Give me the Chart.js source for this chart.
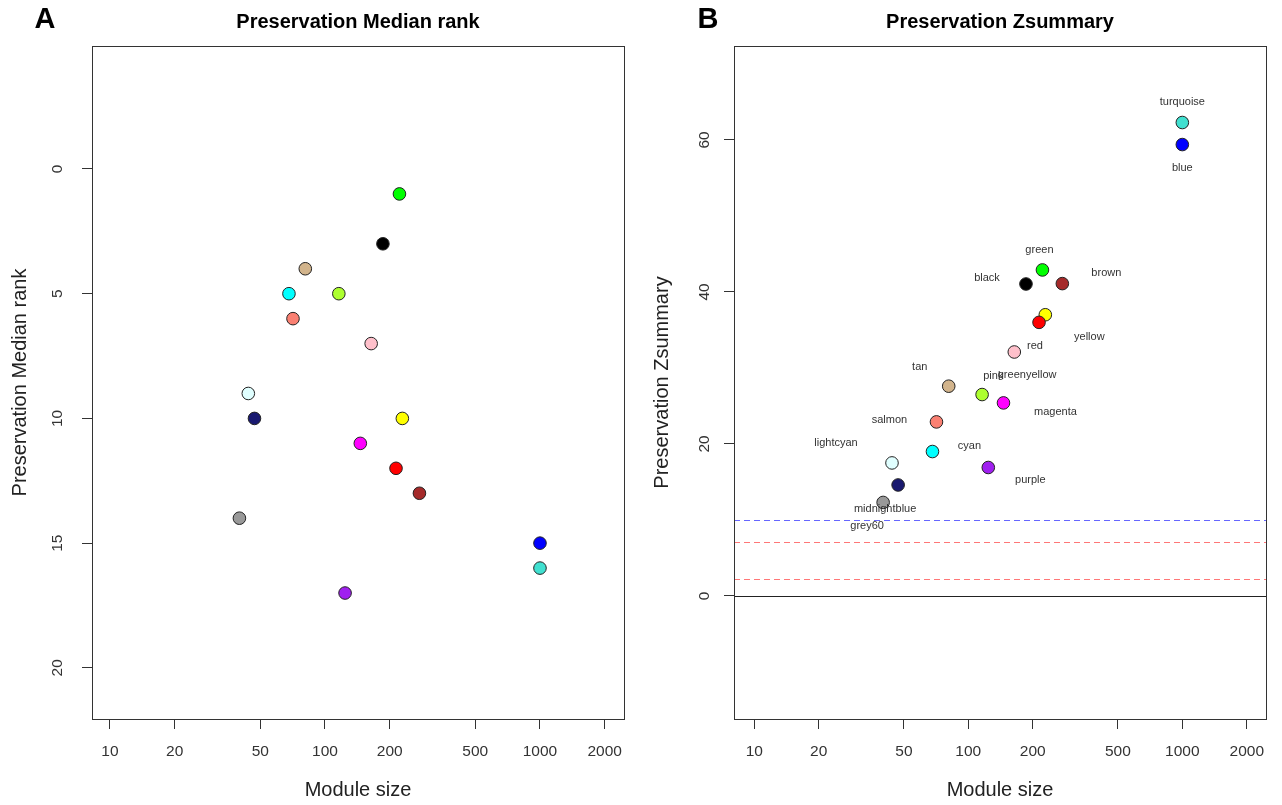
<!DOCTYPE html>
<html><head><meta charset="utf-8">
<script src="https://cdn.jsdelivr.net/npm/chart.js@4/dist/chart.umd.min.js"></script>
<style>
html,body{margin:0;padding:0;background:#fff;}
#wrap{position:relative;width:1282px;height:805px;overflow:hidden;}
.panel{position:absolute;top:0;width:641px;height:805px;}
</style></head><body>
<div id="wrap">
<div class="panel" style="left:0"><canvas id="cA"></canvas></div>
<div class="panel" style="left:641px"><canvas id="cB"></canvas></div>
</div>
<script>
// ---- data ----
const modules = ["green","black","tan","cyan","greenyellow","salmon","pink","lightcyan","midnightblue","yellow","magenta","red","brown","grey60","blue","turquoise","purple"];
const moduleSizes = [222,186,81,68,116,71,164,44,47,229,146,214,275,40,1000,1000,124];
const medianRanks = [1,3,4,5,5,6,7,9,10,10,11,12,13,14,15,16,17];
const zSummary = [42.9,41.05,27.6,19.0,26.5,22.9,32.1,17.5,14.6,37.0,25.4,36.0,41.1,12.3,59.4,62.3,16.9];
const moduleColors = ["#00FF00","#000000","#D2B48C","#00FFFF","#ADFF2F","#FA8072","#FFC0CB","#E0FFFF","#191970","#FFFF00","#FF00FF","#FF0000","#A52A2A","#999999","#0000FF","#40E0D0","#A020F0"];
const xTickValues = [10,20,50,100,200,500,1000,2000];
const rankTicks = [0,5,10,15,20];
const zTicks = [0,20,40,60];
const zRefLines = [0,10,7.15,2.2];
const zRefColors = ["#222222","#6666FF","#FF7777","#FF7777"];
const zRefDash = [[],[6,4],[6,4],[6,4]];
// label offsets (px) relative to each point in panel B
const labelOffsets = [[-3,-20],[-39,-6],[-29,-19],[37,-6],[45,-20],[-47,-2],[-21,24],[-56,-20],[-13,24],[44,22],[52,9],[-4,24],[44,-11],[-16,24],[0,23],[0,-21],[42,12]];

const FONT = "'Liberation Sans', Arial, Helvetica, sans-serif";
const AXC = '#333';

function boxAndText(opts){
  return {
    id: 'rdecor',
    afterDraw(chart){
      const ctx = chart.ctx, a = chart.chartArea;
      ctx.save();
      ctx.strokeStyle = AXC; ctx.lineWidth = 1;
      ctx.strokeRect(Math.round(a.left)+0.5, Math.round(a.top)+0.5, Math.round(a.right-a.left), Math.round(a.bottom-a.top));
      const cx = (a.left + a.right)/2;
      ctx.fillStyle = '#000';
      ctx.textAlign = 'center'; ctx.textBaseline = 'middle';
      ctx.font = 'bold 20px ' + FONT;
      ctx.fillText(opts.title, cx, 22);
      ctx.font = 'bold 29px ' + FONT;
      ctx.fillText(opts.letter, opts.letterX, 20);
      ctx.fillStyle = '#222';
      ctx.font = '20px ' + FONT;
      ctx.fillText('Module size', cx, 790);
      // y title
      ctx.save();
      ctx.translate(a.left - 72, (a.top + a.bottom)/2);
      ctx.rotate(-Math.PI/2);
      ctx.fillText(opts.ytitle, 0, 0);
      ctx.restore();
      // y tick labels rotated
      const ys = chart.scales.y;
      ctx.font = '15.5px ' + FONT;
      ctx.fillStyle = '#333';
      opts.yticks.forEach(v => {
        const py = ys.getPixelForValue(v);
        ctx.save();
        ctx.translate(a.left - opts.ytickOff, py);
        ctx.rotate(-Math.PI/2);
        ctx.fillText(String(v), 0, 0);
        ctx.restore();
      });
      ctx.restore();
    }
  };
}

function makeOptions(cfg){
  return {
    responsive: true,
    maintainAspectRatio: false,
    animation: false,
    events: [],
    layout: { padding: { left: 0, right: cfg.padRight, top: 46, bottom: 0 } },
    plugins: { legend: { display: false }, tooltip: { enabled: false }, title: { display: false } },
    scales: {
      x: {
        type: 'logarithmic',
        min: cfg.xmin, max: cfg.xmax,
        afterBuildTicks: s => { s.ticks = xTickValues.map(v => ({ value: v })); },
        afterFit: s => { s.height = 86; },
        ticks: { callback: v => String(v), autoSkip: false, maxRotation: 0, minRotation: 0, color: '#333', font: { family: FONT, size: 15.5 }, padding: 13 },
        grid: { display: true, drawOnChartArea: false, drawTicks: true, tickLength: 10, color: AXC, lineWidth: 1 },
        border: { display: true, color: AXC, width: 1 }
      },
      y: {
        type: 'linear',
        reverse: cfg.reverse,
        min: cfg.ymin, max: cfg.ymax,
        afterBuildTicks: s => { s.ticks = cfg.yticks.map(v => ({ value: v })); },
        afterFit: s => { s.width = cfg.yWidth; },
        ticks: { display: false },
        grid: { display: true, drawOnChartArea: false, drawTicks: true, tickLength: 10, color: AXC, lineWidth: 1 },
        border: { display: true, color: AXC, width: 1 }
      }
    }
  };
}

function pointsFor(yvals){
  return moduleSizes.map((s, i) => ({ x: s, y: yvals[i] }));
}

const dsStyle = {
  pointRadius: 6.3,
  pointBackgroundColor: moduleColors,
  pointBorderColor: '#222',
  pointBorderWidth: 1,
  showLine: false
};

// Panel A
new Chart(document.getElementById('cA'), {
  type: 'scatter',
  data: { datasets: [Object.assign({ label: 'Median rank', data: pointsFor(medianRanks) }, dsStyle)] },
  options: makeOptions({ padRight: 17, xmin: 8.25, xmax: 2459, reverse: true, ymin: -4.93, ymax: 22.05, yticks: rankTicks, yWidth: 92 }),
  plugins: [boxAndText({ title: 'Preservation Median rank', letter: 'A', letterX: 45, ytitle: 'Preservation Median rank', yticks: rankTicks, ytickOff: 34 })]
});

// Panel B
const refLinesPlugin = {
  id: 'reflines',
  beforeDatasetsDraw(chart){
    const ctx = chart.ctx, a = chart.chartArea, ys = chart.scales.y;
    ctx.save();
    ctx.lineWidth = 1;
    zRefLines.forEach((v, i) => {
      const py = Math.round(ys.getPixelForValue(v)) + 0.5;
      ctx.strokeStyle = zRefColors[i];
      ctx.setLineDash(zRefDash[i]);
      ctx.beginPath(); ctx.moveTo(a.left, py); ctx.lineTo(a.right, py); ctx.stroke();
    });
    ctx.restore();
  }
};
const labelPlugin = {
  id: 'ptlabels',
  afterDatasetsDraw(chart){
    const ctx = chart.ctx, xs = chart.scales.x, ys = chart.scales.y;
    ctx.save();
    ctx.font = '11px ' + FONT;
    ctx.fillStyle = '#333';
    ctx.textAlign = 'center'; ctx.textBaseline = 'middle';
    modules.forEach((m, i) => {
      const px = xs.getPixelForValue(moduleSizes[i]) + labelOffsets[i][0];
      const py = ys.getPixelForValue(zSummary[i]) + labelOffsets[i][1];
      ctx.fillText(m, px, py);
    });
    ctx.restore();
  }
};
new Chart(document.getElementById('cB'), {
  type: 'scatter',
  data: { datasets: [Object.assign({ label: 'Zsummary', data: pointsFor(zSummary) }, dsStyle)] },
  options: makeOptions({ padRight: 16, xmin: 8.04, xmax: 2460, reverse: false, ymin: -16.2, ymax: 72.37, yticks: zTicks, yWidth: 93 }),
  plugins: [refLinesPlugin, labelPlugin, boxAndText({ title: 'Preservation Zsummary', letter: 'B', letterX: 67, ytitle: 'Preservation Zsummary', yticks: zTicks, ytickOff: 29 })]
});
</script>
</body></html>
